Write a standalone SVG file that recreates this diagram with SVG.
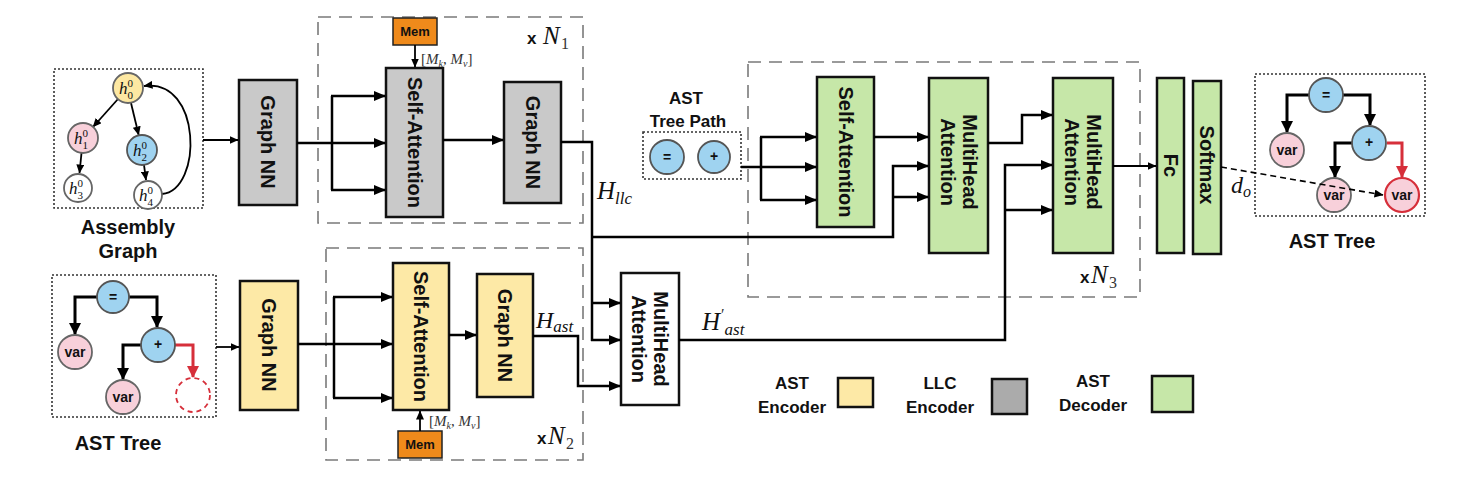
<svg xmlns="http://www.w3.org/2000/svg" width="1476" height="482" viewBox="0 0 1476 482">
<defs>
<marker id="ah" markerUnits="userSpaceOnUse" markerWidth="12" markerHeight="10" refX="11" refY="5" orient="auto"><path d="M0,0 L12,5 L0,10 z" fill="#000"/></marker>
<marker id="ahs" markerUnits="userSpaceOnUse" markerWidth="9" markerHeight="8" refX="8.5" refY="4" orient="auto"><path d="M0,0 L9,4 L0,8 z" fill="#000"/></marker>
<marker id="ahr" markerUnits="userSpaceOnUse" markerWidth="12" markerHeight="12" refX="11" refY="6" orient="auto"><path d="M0,0 L12,6 L0,12 z" fill="#d62f3a"/></marker>
<marker id="aht" markerUnits="userSpaceOnUse" markerWidth="12" markerHeight="12" refX="11" refY="6" orient="auto"><path d="M0,0 L12,6 L0,12 z" fill="#000"/></marker>
</defs>
<style>
.box{stroke:#111;stroke-width:2.5}
.llc{fill:#c9c9c9}
.enc{fill:#fde9a6}
.dec{fill:#c6e7a8}
.wh{fill:#fff}
.mem{fill:#ef8a1b;stroke:#222;stroke-width:1.5}
.dash{fill:none;stroke:#7a7a7a;stroke-width:1.6;stroke-dasharray:13 8}
.dot{fill:none;stroke:#333;stroke-width:1.6;stroke-dasharray:2 2}
.lbl{font-family:"Liberation Sans",Arial,sans-serif;font-weight:bold;fill:#111}
.bl{font-size:20px;text-anchor:middle;dominant-baseline:central}
.math{font-family:"Liberation Serif","Times New Roman",serif;font-style:italic;fill:#111}
.rm{font-family:"Liberation Serif","Times New Roman",serif;fill:#333}
.c{fill:none;stroke:#000;stroke-width:2.5}
.ct{fill:none;stroke:#000;stroke-width:3}
.cr{fill:none;stroke:#d62f3a;stroke-width:3}
.g{fill:none;stroke:#000;stroke-width:1.8}
.blue{fill:#9fd3f0;stroke:#555;stroke-width:1.8}
.pink{fill:#f8d0da;stroke:#666;stroke-width:1.8}
.yel{fill:#fde8a2;stroke:#666;stroke-width:1.8}
.wc{fill:#fff;stroke:#666;stroke-width:1.8}
.cl{font-family:"Liberation Sans",Arial,sans-serif;font-weight:bold;font-size:14px;text-anchor:middle;dominant-baseline:central;fill:#111}
</style>
<rect width="1476" height="482" fill="#fff"/>

<!-- repeat containers -->
<g id="repeat-N1">
<rect class="dash" x="318" y="17" width="265" height="206"/>
<text x="527" y="44" class="lbl" font-size="17">x</text>
<text x="543" y="44" class="math" font-size="25">N</text>
<text x="561" y="49" class="rm" font-size="16" fill="#111">1</text>
</g>
<g id="repeat-N2">
<rect class="dash" x="326" y="248" width="257" height="212"/>
<text x="537" y="444" class="lbl" font-size="17">x</text>
<text x="548" y="444" class="math" font-size="25">N</text>
<text x="566" y="449" class="rm" font-size="16" fill="#111">2</text>
</g>
<g id="repeat-N3">
<rect class="dash" x="748" y="62" width="392" height="235"/>
<text x="1080" y="283" class="lbl" font-size="17">x</text>
<text x="1091" y="283" class="math" font-size="25">N</text>
<text x="1109" y="288" class="rm" font-size="16" fill="#111">3</text>
</g>

<!-- Assembly graph -->
<g id="assembly-graph">
<rect class="dot" x="54" y="69" width="149" height="139"/>
<path class="g" d="M118,99 L93,127" marker-end="url(#ahs)"/>
<path class="g" d="M131,103 L138.7,135" marker-end="url(#ahs)"/>
<path class="g" d="M81.5,153 L79.5,173" marker-end="url(#ahs)"/>
<path class="g" d="M144,165 L146,180" marker-end="url(#ahs)"/>
<path class="g" d="M162,194 C203,190 202,78 144,86" marker-end="url(#ahs)"/>
<circle class="yel" cx="128" cy="88" r="15"/>
<circle class="pink" cx="83" cy="138" r="15"/>
<circle class="blue" cx="142" cy="150" r="15"/>
<circle class="wc" cx="78" cy="188" r="14"/>
<circle class="wc" cx="148" cy="195" r="14"/>
<g class="math" font-size="17">
<text x="119" y="94">h</text><text x="127.5" y="87" font-size="11" font-style="normal">0</text><text x="127.5" y="99" font-size="11" font-style="normal">0</text>
<text x="74" y="144">h</text><text x="82.5" y="137" font-size="11" font-style="normal">0</text><text x="82.5" y="149" font-size="11" font-style="normal">1</text>
<text x="133" y="156">h</text><text x="141.5" y="149" font-size="11" font-style="normal">0</text><text x="141.5" y="161" font-size="11" font-style="normal">2</text>
<text x="69" y="194">h</text><text x="77.5" y="187" font-size="11" font-style="normal">0</text><text x="77.5" y="199" font-size="11" font-style="normal">3</text>
<text x="139" y="201">h</text><text x="147.5" y="194" font-size="11" font-style="normal">0</text><text x="147.5" y="206" font-size="11" font-style="normal">4</text>
</g>
<text class="lbl" font-size="20" x="128" y="234" text-anchor="middle">Assembly</text>
<text class="lbl" font-size="20" x="128" y="258" text-anchor="middle">Graph</text>
</g>

<!-- AST tree (input) -->
<g id="ast-tree-in">
<rect class="dot" x="52" y="275" width="164" height="142"/>
<path class="ct" d="M97,297 H75 V334" marker-end="url(#aht)"/>
<path class="ct" d="M129,297 H157 V327" marker-end="url(#aht)"/>
<path class="ct" d="M141,345 H123 V379" marker-end="url(#aht)"/>
<path class="cr" d="M175,345 H193 V377" marker-end="url(#ahr)"/>
<circle class="blue" cx="113" cy="297" r="16"/>
<circle class="pink" cx="75" cy="352" r="17"/>
<circle class="blue" cx="158" cy="345" r="17"/>
<circle class="pink" cx="123" cy="397" r="17"/>
<circle cx="193" cy="395" r="17" fill="none" stroke="#d62f3a" stroke-width="1.8" stroke-dasharray="5 4"/>
<text class="cl" x="113" y="297">=</text>
<text class="cl" x="75" y="352">var</text>
<text class="cl" x="158" y="344">+</text>
<text class="cl" x="123" y="397">var</text>
<text class="lbl" font-size="20" x="118" y="450" text-anchor="middle">AST Tree</text>
</g>

<!-- LLC encoder -->
<g id="llc-graphnn"><rect class="box llc" x="239" y="80" width="58" height="125"/><text class="lbl bl" transform="translate(268,142) rotate(90)">Graph NN</text></g>
<g id="mem1"><rect class="mem" x="393" y="18" width="44" height="27"/><text class="lbl" font-size="13" x="415" y="36" text-anchor="middle">Mem</text></g>
<g id="llc-selfatt"><rect class="box llc" x="386" y="68" width="57" height="149"/><text class="lbl bl" transform="translate(414.5,142.5) rotate(90)">Self-Attention</text></g>
<g id="llc-graphnn2"><rect class="box llc" x="504" y="82" width="57" height="121"/><text class="lbl bl" transform="translate(532.5,142.5) rotate(90)">Graph NN</text></g>

<!-- AST encoder -->
<g id="ast-graphnn"><rect class="box enc" x="240" y="281" width="58" height="129"/><text class="lbl bl" transform="translate(269,345) rotate(90)">Graph NN</text></g>
<g id="mem2"><rect class="mem" x="398" y="431" width="44" height="27"/><text class="lbl" font-size="13" x="420" y="449" text-anchor="middle">Mem</text></g>
<g id="ast-selfatt"><rect class="box enc" x="393" y="263" width="56" height="147"/><text class="lbl bl" transform="translate(421,336.5) rotate(90)">Self-Attention</text></g>
<g id="ast-graphnn2"><rect class="box enc" x="477" y="274" width="56" height="123"/><text class="lbl bl" transform="translate(505,335.5) rotate(90)">Graph NN</text></g>

<!-- cross attention -->
<g id="mha-cross"><rect class="box wh" x="621" y="273" width="58" height="132"/><text class="lbl" font-size="20" text-anchor="middle" transform="translate(650,339) rotate(90)"><tspan x="0" y="-4">MultiHead</tspan><tspan x="0" y="18">Attention</tspan></text></g>

<!-- AST tree path -->
<g id="ast-tree-path">
<text class="lbl" font-size="17" x="686" y="104" text-anchor="middle">AST</text>
<text class="lbl" font-size="17" x="688" y="127" text-anchor="middle">Tree Path</text>
<rect class="dot" x="643" y="132" width="98" height="47"/>
<circle class="blue" cx="667" cy="157" r="17" stroke="#111"/>
<circle class="blue" cx="714" cy="157" r="16" stroke="#111"/>
<text class="cl" x="667" y="157">=</text>
<text class="cl" x="714" y="156">+</text>
</g>

<!-- decoder -->
<g id="dec-selfatt"><rect class="box dec" x="817" y="77" width="57" height="150"/><text class="lbl bl" transform="translate(845.5,152) rotate(90)">Self-Attention</text></g>
<g id="dec-mha1"><rect class="box dec" x="929" y="78" width="59" height="175"/><text class="lbl" font-size="20" text-anchor="middle" transform="translate(958.5,162) rotate(90)"><tspan x="0" y="-4">MultiHead</tspan><tspan x="0" y="18">Attention</tspan></text></g>
<g id="dec-mha2"><rect class="box dec" x="1053" y="78" width="60" height="175"/><text class="lbl" font-size="20" text-anchor="middle" transform="translate(1083,162) rotate(90)"><tspan x="0" y="-4">MultiHead</tspan><tspan x="0" y="18">Attention</tspan></text></g>
<g id="fc"><rect class="box dec" x="1157" y="78" width="27" height="175"/><text class="lbl bl" transform="translate(1170.5,165.5) rotate(90)">Fc</text></g>
<g id="softmax"><rect class="box dec" x="1193" y="81" width="28" height="173"/><text class="lbl bl" transform="translate(1207,165) rotate(90)">Softmax</text></g>

<!-- AST tree (output) -->
<g id="ast-tree-out">
<rect class="dot" x="1255" y="74" width="170" height="142"/>
<path class="ct" d="M1309,95 H1287 V132" marker-end="url(#aht)"/>
<path class="ct" d="M1343,95 H1370 V125" marker-end="url(#aht)"/>
<path class="ct" d="M1353,143 H1335 V177" marker-end="url(#aht)"/>
<path class="cr" d="M1387,143 H1402 V177" marker-end="url(#ahr)"/>
<circle class="blue" cx="1326" cy="95" r="17"/>
<circle class="pink" cx="1287" cy="150" r="17"/>
<circle class="blue" cx="1369" cy="143" r="17"/>
<circle class="pink" cx="1334" cy="195" r="17"/>
<circle cx="1402" cy="195" r="17" fill="#f8d0da" stroke="#d62f3a" stroke-width="2.2"/>
<text class="cl" x="1326" y="95">=</text>
<text class="cl" x="1287" y="150">var</text>
<text class="cl" x="1369" y="142">+</text>
<text class="cl" x="1334" y="195">var</text>
<text class="cl" x="1402" y="195">var</text>
<text class="lbl" font-size="20" x="1332" y="248" text-anchor="middle">AST Tree</text>
</g>

<!-- connectors -->
<g id="connectors">
<path class="g" d="M203,140 H238" marker-end="url(#ahs)" stroke-width="1.6"/>
<path class="c" d="M297,143 H332 M332,96 V190"/>
<path class="c" d="M331,96 H385" marker-end="url(#ah)"/>
<path class="c" d="M331,143 H385" marker-end="url(#ah)"/>
<path class="c" d="M331,190 H385" marker-end="url(#ah)"/>
<path class="g" d="M415,45 V67" marker-end="url(#ahs)" stroke-width="1.6"/>
<path class="c" d="M443,140 H503" marker-end="url(#ah)"/>
<path class="c" d="M561,142 H592 V341"/>
<path class="c" d="M592,237 H893 V166 H928" marker-end="url(#ah)"/>
<path class="c" d="M892,197 H928" marker-end="url(#ah)"/>
<path class="c" d="M591,303 H620" marker-end="url(#ah)"/>
<path class="c" d="M591,340 H620" marker-end="url(#ah)"/>

<path class="g" d="M216,347 H239" marker-end="url(#ahs)" stroke-width="1.6"/>
<path class="c" d="M298,344 H334 M334,297 V398"/>
<path class="c" d="M333,297 H392" marker-end="url(#ah)"/>
<path class="c" d="M333,344 H392" marker-end="url(#ah)"/>
<path class="c" d="M333,398 H392" marker-end="url(#ah)"/>
<path class="g" d="M420,431 V411" marker-end="url(#ahs)" stroke-width="1.6"/>
<path class="c" d="M449,335 H476" marker-end="url(#ah)"/>
<path class="c" d="M533,336 H578 V386 H620" marker-end="url(#ah)"/>

<path class="c" d="M679,340 H1005 V165 H1052" marker-end="url(#ah)"/>
<path class="c" d="M1004,210 H1052" marker-end="url(#ah)"/>

<path class="c" d="M741,167 H761 M761,137 V200"/>
<path class="c" d="M760,137 H816" marker-end="url(#ah)"/>
<path class="c" d="M760,167 H816" marker-end="url(#ah)"/>
<path class="c" d="M760,200 H816" marker-end="url(#ah)"/>
<path class="c" d="M874,137 H928" marker-end="url(#ah)"/>
<path class="c" d="M988,143 H1022 V115 H1052" marker-end="url(#ah)"/>
<path class="g" d="M1113,166 H1156" marker-end="url(#ahs)"/>
<path d="M1221,167 L1383,195" fill="none" stroke="#000" stroke-width="1.6" stroke-dasharray="6 4" marker-end="url(#ahs)"/>
</g>

<!-- math labels -->
<g id="labels">
<text class="rm" font-size="15" x="421" y="64">[<tspan font-style="italic">M</tspan><tspan font-size="10" font-style="italic" dy="3">k</tspan><tspan dy="-3">, </tspan><tspan font-style="italic">M</tspan><tspan font-size="10" font-style="italic" dy="3">v</tspan><tspan dy="-3">]</tspan></text>
<text class="rm" font-size="15" x="429" y="426">[<tspan font-style="italic">M</tspan><tspan font-size="10" font-style="italic" dy="3">k</tspan><tspan dy="-3">, </tspan><tspan font-style="italic">M</tspan><tspan font-size="10" font-style="italic" dy="3">v</tspan><tspan dy="-3">]</tspan></text>
<text class="math" font-size="25" x="597" y="199">H<tspan font-size="17" dy="5">llc</tspan></text>
<text class="math" font-size="24" x="536" y="328">H<tspan font-size="17" dy="4">ast</tspan></text>
<text class="math" font-size="25" x="702" y="330">H<tspan class="rm" font-style="normal" fill="#111" font-size="16" dx="1" dy="-10">′</tspan><tspan font-size="17" dx="0" dy="15">ast</tspan></text>
<text class="math" font-size="24" x="1231" y="193">d<tspan font-size="16" dy="4">o</tspan></text>
</g>

<!-- legend -->
<g id="legend-ast-encoder">
<text class="lbl" font-size="17" x="792" y="389" text-anchor="middle">AST</text>
<text class="lbl" font-size="17" x="792" y="413" text-anchor="middle">Encoder</text>
<rect class="box enc" x="838" y="378" width="35" height="29"/>
</g>
<g id="legend-llc-encoder">
<text class="lbl" font-size="17" x="940" y="389" text-anchor="middle">LLC</text>
<text class="lbl" font-size="17" x="940" y="413" text-anchor="middle">Encoder</text>
<rect class="box" fill="#ababab" x="992" y="379" width="35" height="35"/>
</g>
<g id="legend-ast-decoder">
<text class="lbl" font-size="17" x="1093" y="387" text-anchor="middle">AST</text>
<text class="lbl" font-size="17" x="1093" y="411" text-anchor="middle">Decoder</text>
<rect class="box dec" x="1152" y="376" width="41" height="36"/>
</g>
</svg>
